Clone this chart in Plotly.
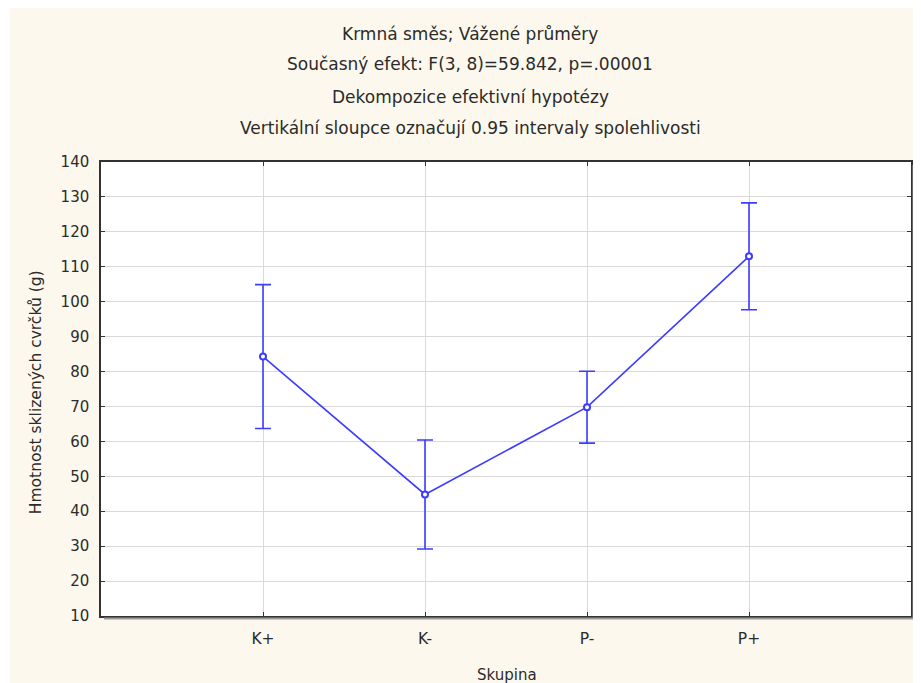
import plotly.graph_objects as go

categories = ["K+", "K-", "P-", "P+"]
means = [84.3, 44.8, 69.8, 113.0]
ci_half = [20.6, 15.6, 10.3, 15.3]
y_ticks = list(range(10, 141, 10))

title_lines = [
    "Krmná směs; Vážené průměry",
    "Současný efekt: F(3, 8)=59.842, p=.00001",
    "Dekompozice efektivní hypotézy",
    "Vertikální sloupce označují 0.95 intervaly spolehlivosti",
]

# page body has an 8px margin: figure starts at (8, 8) of the window
OFF = 8
W, H = 921 - OFF, 683 - OFF
L, R, T, B = 101 - OFF, 913 - OFF, 162 - OFF, 616 - OFF
pw, ph = R - L, B - T

def px(x):  # x in reference window pixels
    return (x - OFF - L) / pw

def py(y):
    return (B - (y - OFF)) / ph

FONT = "DejaVu Sans"
TXT = "#2b2b2b"
BLUE = "#3c3cff"

xpos = list(range(len(categories)))

fig = go.Figure()
fig.add_trace(go.Scatter(
    x=xpos, y=means, mode="lines+markers",
    line=dict(color=BLUE, width=1.6),
    marker=dict(color="white", size=6, line=dict(color=BLUE, width=2)),
    error_y=dict(type="data", array=ci_half, visible=True, color=BLUE, thickness=1.6, width=8),
    showlegend=False, cliponaxis=False,
))

shapes = [
    dict(type="rect", xref="paper", yref="paper", x0=px(8), x1=px(10), y0=py(683), y1=py(8),
         fillcolor="white", line=dict(width=0), layer="below"),
    # shadow
    dict(type="line", xref="paper", yref="paper", x0=px(913 + 2.5), x1=px(913 + 2.5), y0=py(165), y1=py(616 + 2.5),
         line=dict(color="#9a9a9a", width=2)),
    dict(type="line", xref="paper", yref="paper", x0=px(104), x1=px(913 + 2.5), y0=py(616 + 2.5), y1=py(616 + 2.5),
         line=dict(color="#9a9a9a", width=2)),
]

annotations = []
title_y = [34, 64, 97, 128]
for txt, yy in zip(title_lines, title_y):
    annotations.append(dict(text=txt, xref="paper", yref="paper", x=px(471), y=py(yy),
                            xanchor="center", yanchor="middle", showarrow=False,
                            font=dict(family=FONT, size=17, color=TXT)))
annotations.append(dict(text="Skupina", xref="paper", yref="paper", x=px(508), y=py(675),
                        xanchor="center", yanchor="middle", showarrow=False,
                        font=dict(family=FONT, size=15, color=TXT)))
annotations.append(dict(text="Hmotnost sklizených cvrčků (g)", xref="paper", yref="paper", x=px(36), y=py(392),
                        xanchor="center", yanchor="middle", showarrow=False, textangle=-90,
                        font=dict(family=FONT, size=15.5, color=TXT)))

fig.update_layout(
    width=W, height=H,
    margin=dict(l=L, r=W - R, t=T, b=H - B),
    paper_bgcolor="#fdf8ed", plot_bgcolor="white",
    shapes=shapes, annotations=annotations,
    font=dict(family=FONT, size=15, color=TXT),
)
fig.update_xaxes(
    range=[-1, 4], tickvals=xpos, ticktext=categories,
    showgrid=True, gridcolor="#d9d9d9", gridwidth=1,
    showline=True, linecolor="#333333", linewidth=1.5, mirror="ticks",
    ticks="inside", ticklen=4, tickcolor="#333333",
    tickfont=dict(family=FONT, size=15.5, color=TXT), zeroline=False,
    ticklabelstandoff=8,
)
fig.update_yaxes(
    range=[10, 140], tickvals=y_ticks,
    showgrid=True, gridcolor="#d9d9d9", gridwidth=1,
    showline=True, linecolor="#333333", linewidth=1.5, mirror="ticks",
    ticks="inside", ticklen=4, tickcolor="#333333",
    tickfont=dict(family=FONT, size=15, color=TXT), zeroline=False,
    ticklabelstandoff=7,
)

fig.write_html("out.html")
